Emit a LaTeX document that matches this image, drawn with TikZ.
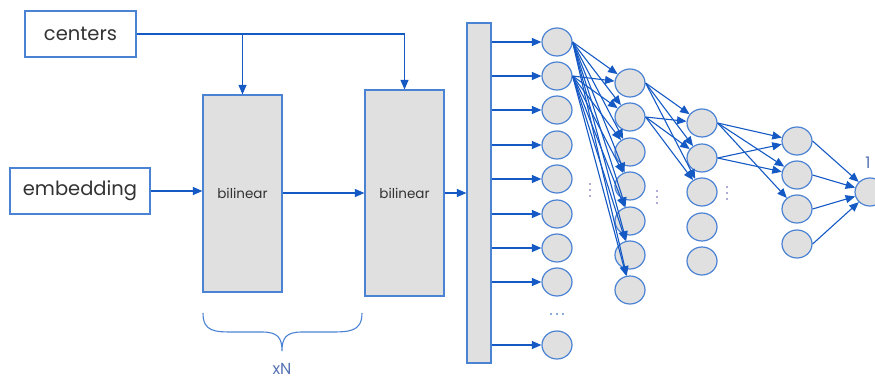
\documentclass[tikz,border=0pt]{standalone}
\usepackage{fontspec}
\setmainfont{Poppins}
\usetikzlibrary{arrows.meta,shapes.geometric}
\definecolor{edge}{HTML}{1459C4}
\definecolor{rim}{HTML}{4A82D4}
\definecolor{fillg}{HTML}{E0E0E0}
\definecolor{txt}{HTML}{333333}
\definecolor{dotc}{HTML}{5E58B0}
\definecolor{lab}{HTML}{5673B5}
\tikzset{
  wire/.style={draw=edge, line width=1.1pt},
  arr/.style={wire, -{Triangle[length=9.5pt,width=8pt]}},
  inbox/.style={draw=rim, line width=1.2pt, fill=white, inner sep=0pt, text=txt, font=\fontsize{19.5}{22}\selectfont},
  layerbox/.style={draw=rim, line width=1.2pt, fill=fillg, inner sep=0pt, text=txt, font=\fontsize{13.5}{16}\selectfont},
  unit/.style={ellipse, draw=rim, line width=1.2pt, fill=fillg, minimum width=30pt, minimum height=28pt, inner sep=0pt},
  dotpt/.style={circle, fill=dotc, inner sep=0pt, minimum size=1.8pt}
}
\begin{document}
\begin{tikzpicture}[x=1pt,y=-1pt]
\useasboundingbox (0,0) rectangle (875,381);

% inputs
\node[inbox, minimum width=111pt, minimum height=46pt] (centers) at (80.5,34) {centers};
\node[inbox, minimum width=140pt, minimum height=46pt] (emb) at (80,191) {embedding};

% bilinear layers
\node[layerbox, minimum width=79pt, minimum height=197pt] (bil1) at (242.5,193.5) {bilinear};
\node[layerbox, minimum width=79pt, minimum height=206pt] (bil2) at (404.5,193) {bilinear};

% concatenated vector
\node[draw=rim, line width=1.2pt, fill=fillg, minimum width=24pt, minimum height=340pt, inner sep=0pt] (vec) at (479,193) {};

\draw[arr] (centers.east) -| (bil2.north);
\draw[arr] (centers.east -| bil1.north) -- (bil1.north);
\draw[arr] (emb.east) -- (bil1.west |- emb.east);
\draw[arr] (bil1.east |- 0,193) -- (bil2.west |- 0,193);
\draw[arr] (bil2.east |- 0,193) -- (vec.west |- 0,193);

% repeat brace
\draw[draw=rim, line width=1.1pt] (203,313) .. controls (203,332) and (215,332) .. (235,332)
  -- (262,332) .. controls (278,332) and (282,338) .. (282,351)
  .. controls (282,338) and (286,332) .. (302,332) -- (329,332)
  .. controls (349,332) and (362,332) .. (362,313);
\node[text=lab, font=\fontsize{16}{18}\selectfont, inner sep=0pt, anchor=base] (rep) at (282,374) {xN};

% first hidden layer
\foreach \i/\y in {1/42,2/76,3/110,4/145,5/179,6/214,7/248,8/282,9/345}
  \node[unit] (a\i) at (557,\y) {};
\foreach \i in {1,...,9}
  \draw[arr] (vec.east |- a\i) -- (a\i.west);
\foreach \x in {551,557,563}
  \node[dotpt, fill=edge] at (\x,314) {};

% second hidden layer
\foreach \i/\y in {1/83,2/117,3/152,4/186,5/221,6/255,7/290}
  \node[unit] (b\i) at (630,\y) {};
% third hidden layer
\foreach \i/\y in {1/123,2/158,3/192,4/227,5/261}
  \node[unit] (c\i) at (702,\y) {};
% fourth hidden layer
\foreach \i/\y in {1/141,2/175,3/209,4/244}
  \node[unit] (d\i) at (797,\y) {};
% output
\node[unit] (out) at (870,192) {};
\node[text=lab, font=\fontsize{16}{18}\selectfont] (one) at (868,163) {1};

% vertical ellipses
\foreach \x/\y in {590/184,657/191,727/187}
  \foreach \k in {0,6,12}
    \node[dotpt] at (\x,\y+\k) {};

% connections
\foreach \s in {1,2}
  \foreach \t in {1,...,7}
    \draw[arr] (a\s.east) -- (b\t);
\foreach \s in {1,2}
  \foreach \t in {1,2,3}
    \draw[arr] (b\s.east) -- (c\t);
\foreach \t in {1,2,3}
  \draw[arr] (c1.east) -- (d\t);
\foreach \t in {1,2}
  \draw[arr] (c2.east) -- (d\t);
\foreach \s in {1,...,4}
  \draw[arr] (d\s.east) -- (out);
\end{tikzpicture}
\end{document}
